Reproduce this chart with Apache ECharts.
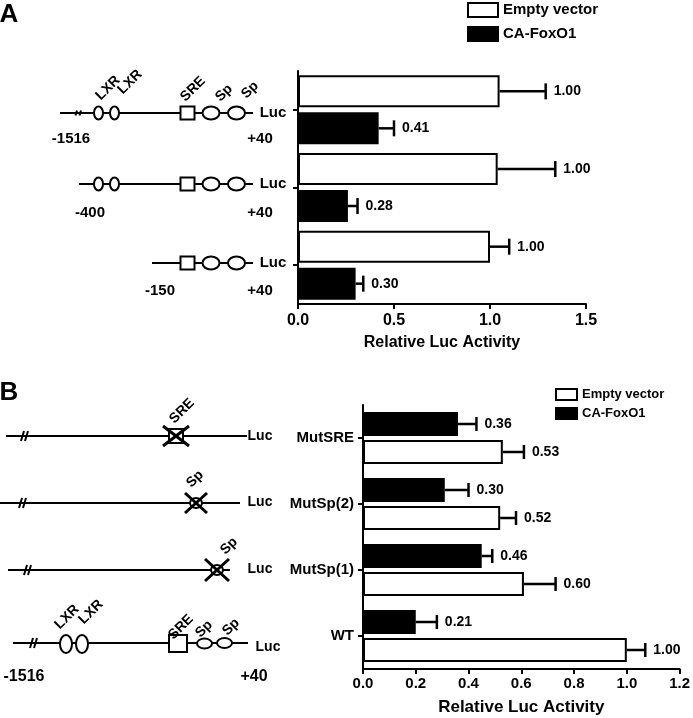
<!DOCTYPE html>
<html>
<head>
<meta charset="utf-8">
<script src="https://cdn.jsdelivr.net/npm/echarts@6/dist/echarts.min.js"></script>
<style>
html,body{margin:0;padding:0;background:#fff;}
#c{width:693px;height:718px;}
</style>
</head>
<body>
<div id="c"></div>
<script>
// ---------- data ----------
const seriesNames = ['Empty vector', 'CA-FoxO1'];

// Panel A (promoter deletion constructs)
const constructsA = ['-1516', '-400', '-150'];
const emptyA = [1.05, 1.04, 1.00];
const emptyErrA = [1.29, 1.34, 1.10];
const foxA = [0.42, 0.26, 0.30];
const foxErrA = [0.50, 0.31, 0.34];
const emptyLabelsA = ['1.00', '1.00', '1.00'];
const foxLabelsA = ['0.41', '0.28', '0.30'];
const ticksA = [0, 0.5, 1.0, 1.5];

// Panel B (site mutants)
const constructsB = ['MutSRE', 'MutSp(2)', 'MutSp(1)', 'WT'];
const emptyB = [0.53, 0.52, 0.61, 1.00];
const emptyErrB = [0.61, 0.58, 0.73, 1.07];
const foxB = [0.36, 0.31, 0.45, 0.20];
const foxErrB = [0.43, 0.40, 0.49, 0.28];
const emptyLabelsB = ['0.53', '0.52', '0.60', '1.00'];
const foxLabelsB = ['0.36', '0.30', '0.46', '0.21'];
const ticksB = [0, 0.2, 0.4, 0.6, 0.8, 1.0, 1.2];

// ---------- style ----------
const FONT = '"Liberation Sans", Arial, sans-serif';
const barWA = 32, gapA = 5, barWB = 24, gapB = 4;

const chart = echarts.init(document.getElementById('c'), null, {renderer: 'canvas'});

function errSeries(name, xi, vals, errs, labels, offset, cap) {
  return {
    type: 'custom', name: name, xAxisIndex: xi, yAxisIndex: xi, z: 5,
    encode: {x: [0, 1], y: 2},
    data: vals.map((v, i) => [v, errs[i], i]),
    renderItem: function (params, api) {
      const cat = api.value(2);
      const p0 = api.coord([api.value(0), cat]);
      const p1 = api.coord([api.value(1), cat]);
      const y = p0[1] + offset;
      return {type: 'group', children: [
        {type: 'line', shape: {x1: p0[0], y1: y, x2: p1[0], y2: y}, style: {stroke: '#000', lineWidth: 2.5}},
        {type: 'line', shape: {x1: p1[0], y1: y - cap / 2, x2: p1[0], y2: y + cap / 2}, style: {stroke: '#000', lineWidth: 2.5}},
        {type: 'text', x: p1[0] + 8, y: y, style: {text: labels[params.dataIndex], align: 'left', verticalAlign: 'middle', font: 'bold 14px ' + FONT, fill: '#000'}}
      ]};
    }
  };
}

function barSeries(name, xi, data, white, bw, gap) {
  return {
    type: 'bar', name: name, xAxisIndex: xi, yAxisIndex: xi, data: data,
    barWidth: bw, barGap: (gap / bw * 100) + '%',
    itemStyle: {color: white ? '#fff' : '#000', borderColor: '#000', borderWidth: 2},
    emphasis: {disabled: true}
  };
}

// ---------- promoter diagrams ----------
const G = [];
function ln(x1, y1, x2, y2, w) { G.push({type: 'line', shape: {x1, y1, x2, y2}, style: {stroke: '#000', lineWidth: w || 2}}); }
function ell(cx, cy, rx, ry) { G.push({type: 'ellipse', shape: {cx, cy, rx, ry}, style: {fill: '#fff', stroke: '#000', lineWidth: 2}}); }
function box(x, y, w, h) { G.push({type: 'rect', shape: {x, y, width: w, height: h}, style: {fill: '#fff', stroke: '#000', lineWidth: 2}}); }
function txt(x, y, t, size, rot) {
  G.push({type: 'text', x: x, y: y, rotation: rot || 0,
    style: {text: t, x: 0, y: 0, align: 'center', verticalAlign: 'middle', font: 'bold ' + size + 'px ' + FONT, fill: '#000'}});
}
function brk(x, y, h) { ln(x - h * 0.3, y + h / 2, x, y - h / 2, 2); ln(x + 4 - h * 0.3, y + h / 2, x + 4, y - h / 2, 2); }
function cross(cx, cy, hx, hy) { ln(cx - hx, cy - hy, cx + hx, cy + hy, 3); ln(cx - hx, cy + hy, cx + hx, cy - hy, 3); }
const R45 = Math.PI / 4;

// Panel A rows
const rowA = [113, 184, 263];
const startA = [60, 79, 152];
rowA.forEach((y, i) => {
  ln(startA[i], y, 253, y);
  if (i === 0) brk(77, y, 5);
  if (i < 2) { ell(98.5, y, 4.5, 6.5); ell(114.5, y, 4.5, 6.5); }
  box(180.5, y - 6.5, 14, 13);
  ell(211, y, 8.5, 6.5);
  ell(236.5, y, 8.5, 6.5);
  txt(273, y, 'Luc', 15);
});
txt(108, 88, 'LXR', 14, R45);
txt(130, 82, 'LXR', 14, R45);
txt(193, 89, 'SRE', 14, R45);
txt(224, 93, 'Sp', 14, R45);
txt(250, 90, 'Sp', 14, R45);
txt(71, 139, '-1516', 15); txt(260, 139, '+40', 15);
txt(90, 213, '-400', 15); txt(260, 213, '+40', 15);
txt(160, 291, '-150', 15); txt(260, 291, '+40', 15);
txt(9, 15, 'A', 26);

// Panel B rows
// MutSRE
ln(6, 436, 247, 436); brk(24, 436, 10);
box(169, 429, 14, 14); cross(176, 436, 13, 10);
txt(182, 411, 'SRE', 14, R45); txt(260, 436, 'Luc', 14);
// MutSp(2)
ln(0, 503, 240, 503); brk(22, 503, 10);
ell(196, 503, 6, 5); cross(196, 503, 11, 10);
txt(195, 479, 'Sp', 14, R45); txt(260, 502, 'Luc', 14);
// MutSp(1)
ln(8, 570, 230, 570); brk(27, 570, 10);
ell(217, 570, 6, 5); cross(217, 570, 12, 11);
txt(229, 546, 'Sp', 14, R45); txt(260, 569, 'Luc', 14);
// WT
ln(13, 643, 248, 643); brk(33, 643, 10);
ell(66, 644, 6, 9); ell(82, 644, 6, 9);
box(169, 635, 18, 17);
ell(204.5, 643.5, 7.5, 5); ell(224.5, 643, 7.5, 5);
txt(67, 617, 'LXR', 14, R45); txt(91, 612, 'LXR', 14, R45);
txt(181, 627, 'SRE', 14, R45); txt(204, 629, 'Sp', 14, R45); txt(231, 627, 'Sp', 14, R45);
txt(268, 647, 'Luc', 14);
txt(24, 677, '-1516', 16); txt(254, 677, '+40', 16);
txt(9, 393, 'B', 26);

// ---------- axes ----------
const axisLine = {show: true, lineStyle: {color: '#000', width: 2}};
const axisTick = {show: true, length: 5, lineStyle: {color: '#000', width: 2}};

function valueAxis(gi, ticks, fontSize, margin, nameSize, nameGap) {
  return {
    type: 'value', gridIndex: gi, min: ticks[0], max: ticks[ticks.length - 1], interval: ticks[1] - ticks[0],
    axisLine: axisLine, axisTick: axisTick, splitLine: {show: false},
    axisLabel: {formatter: v => v.toFixed(1), color: '#000', fontWeight: 'bold', fontSize: fontSize, fontFamily: FONT, margin: margin},
    name: 'Relative Luc Activity', nameLocation: 'middle', nameGap: nameGap,
    nameTextStyle: {color: '#000', fontWeight: 'bold', fontSize: nameSize, fontFamily: FONT}
  };
}

const option = {
  backgroundColor: '#fff',
  animation: false,
  graphic: G,
  grid: [
    {left: 298, top: 71, width: 288, height: 233},
    {left: 363, top: 405, width: 320, height: 264}
  ],
  legend: [
    {data: seriesNames, orient: 'vertical', left: 467, top: 2, padding: 0, itemWidth: 30, itemHeight: 14, itemGap: 8,
      icon: 'rect', itemStyle: {borderColor: '#000', borderWidth: 2},
      textStyle: {color: '#000', fontWeight: 'bold', fontSize: 15, fontFamily: FONT}, selectedMode: false},
    {data: seriesNames, orient: 'vertical', left: 555, top: 388, padding: 0, itemWidth: 21, itemHeight: 11, itemGap: 6,
      icon: 'rect', itemStyle: {borderColor: '#000', borderWidth: 2},
      textStyle: {color: '#000', fontWeight: 'bold', fontSize: 13, fontFamily: FONT}, selectedMode: false}
  ],
  xAxis: [
    valueAxis(0, ticksA, 16, 9, 16, 31),
    valueAxis(1, ticksB, 15, 7, 17, 30)
  ],
  yAxis: [
    {type: 'category', gridIndex: 0, data: constructsA, inverse: true,
      axisLine: axisLine, axisTick: Object.assign({alignWithLabel: true}, axisTick), axisLabel: {show: false}},
    {type: 'category', gridIndex: 1, data: constructsB, inverse: true,
      axisLine: axisLine, axisTick: Object.assign({alignWithLabel: true}, axisTick),
      axisLabel: {color: '#000', fontWeight: 'bold', fontSize: 15, fontFamily: FONT, margin: 9}}
  ],
  series: [
    barSeries('Empty vector', 0, emptyA, true, barWA, gapA),
    barSeries('CA-FoxO1', 0, foxA, false, barWA, gapA),
    errSeries('Empty vector', 0, emptyA, emptyErrA, emptyLabelsA, -(barWA + gapA) / 2, 16),
    errSeries('CA-FoxO1', 0, foxA, foxErrA, foxLabelsA, (barWA + gapA) / 2, 16),
    barSeries('CA-FoxO1', 1, foxB, false, barWB, gapB),
    barSeries('Empty vector', 1, emptyB, true, barWB, gapB),
    errSeries('CA-FoxO1', 1, foxB, foxErrB, foxLabelsB, -(barWB + gapB) / 2, 14),
    errSeries('Empty vector', 1, emptyB, emptyErrB, emptyLabelsB, (barWB + gapB) / 2, 14)
  ]
};
chart.setOption(option);
</script>
</body>
</html>
